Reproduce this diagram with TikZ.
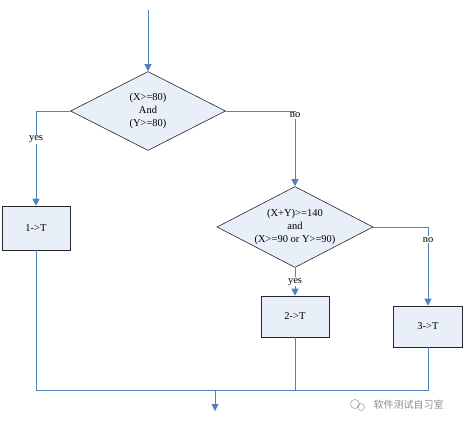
\documentclass[tikz,border=0pt]{standalone}
\usepackage{fontspec}
\setmainfont{Liberation Serif}
\newfontfamily\cjk{Noto Sans CJK SC}
\usetikzlibrary{shapes.geometric}
\usetikzlibrary{arrows.meta}
\definecolor{flowblue}{HTML}{4F81BD}
\definecolor{boxfill}{HTML}{E9EFF8}
\begin{document}
\begin{tikzpicture}[
    x=1pt, y=-1pt,
    >={Triangle[length=7pt,width=7pt]},
    every node/.style={font=\fontsize{10.5}{13}\selectfont},
    decision/.style={draw=black!85, line width=0.6pt, fill=boxfill, diamond, shape aspect=1.9, inner sep=0pt, align=center},
    assign/.style={draw=black!85, line width=0.6pt, fill=boxfill, minimum width=68pt, align=center},
    flow/.style={->, draw=flowblue, line width=0.8pt},
    line/.style={draw=flowblue, line width=0.8pt},
    lbl/.style={fill=white, inner sep=1pt}
]
\useasboundingbox (0,0) rectangle (465,425);

\node[decision, minimum width=155pt, minimum height=79pt] (dec1) at (148,111) {(X>=80)\\And\\(Y>=80)};
\node[decision, minimum width=156pt, minimum height=81pt] (dec2) at (295,227) {(X+Y)>=140\\and\\(X>=90 or Y>=90)};

\node[assign, minimum height=44pt] (box1) at (36,228) {1->T};
\node[assign, minimum height=41pt] (box2) at (295,316.5) {2->T};
\node[assign, minimum height=41pt, minimum width=69pt] (box3) at (428,326.5) {3->T};

\coordinate (in) at (148,10);
\coordinate (exit) at (215,390);
\coordinate (out) at (215,411);

\draw[flow] (in) -- (dec1.north);
\draw[flow] (dec1.west) -| node[pos=0.65, lbl] {yes} (box1.north);
\draw[flow] (dec1.east) -| node[pos=0.53, lbl] {no} (dec2.north);
\draw[flow] (dec2.south) -- node[midway, lbl] {yes} (box2.north);
\draw[flow] (dec2.east) -| node[pos=0.58, lbl] {no} (box3.north);

\draw[line] (box1.south) |- (exit);
\draw[line] (box3.south) |- (exit);
\draw[line] (box2.south) -- (box2.south |- exit);
\draw[flow] (exit) -- (out);

% watermark
\node[text=black!45, font=\cjk\fontsize{10}{12}\selectfont, anchor=west] (mark) at (370,405) {软件测试自习室};
\draw[black!40, line width=0.5pt] (355,404) circle (4.5pt) (361,407) circle (3.5pt);
\end{tikzpicture}
\end{document}
